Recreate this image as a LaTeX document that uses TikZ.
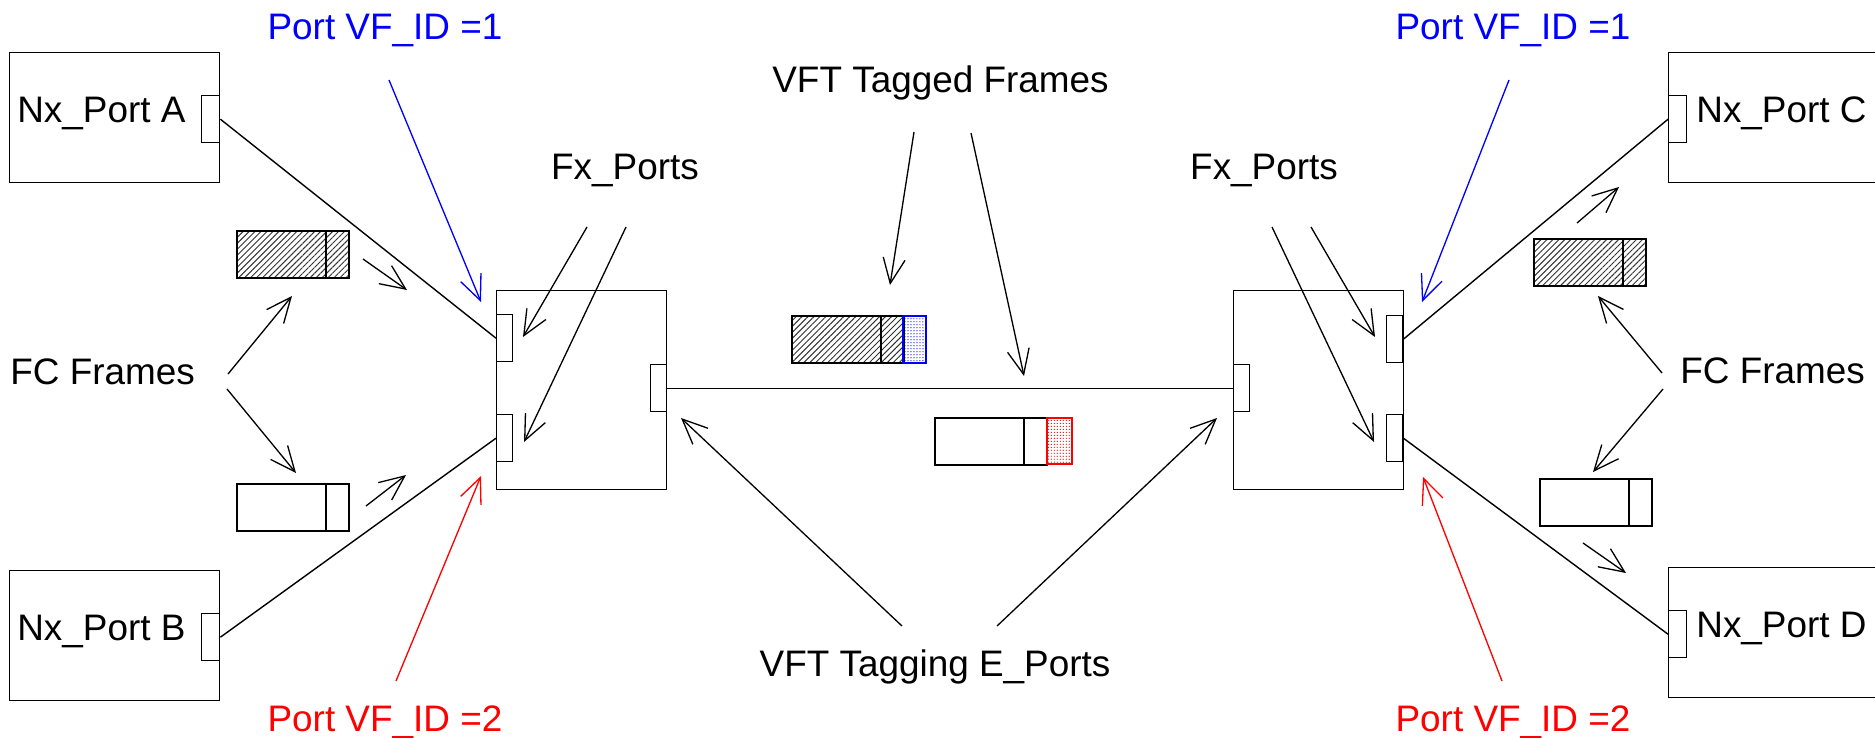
\documentclass[tikz,border=0pt]{standalone}
\usepackage{fontspec}
\setmainfont{Liberation Sans}
\usetikzlibrary{arrows.meta,patterns,patterns.meta}

\tikzset{
  box/.style={draw, line width=0.8pt, inner sep=0pt, anchor=north west},
  lbl/.style={font=\fontsize{21}{25}\selectfont, inner sep=0pt},
  ptr/.style={-{Straight Barb[length=5mm,width=4.4mm]}, line width=0.75pt},
  link/.style={line width=0.8pt},
  hatch/.style={pattern={Lines[angle=45,distance=2.4pt,line width=0.55pt]}, pattern color=black!80},
  tagdots/.style={pattern={Dots[distance=1.7pt,radius=0.35pt]}},
}

% frame: x, y, fill style
\newcommand{\fcframe}[3]{%
  \draw[link, #3] (#1,#2) rectangle ++(112,47);
  \draw[link] (#1+89,#2) -- ++(0,47);
}

\begin{document}
\begin{tikzpicture}[x=0.02cm, y=-0.02cm]
    \useasboundingbox (0,0) rectangle (1875,737);

    % Nx_Ports
    \node[box, minimum width=4.2cm, minimum height=2.6cm] (nxA) at (9,52) {};
    \node[box, minimum width=0.36cm, minimum height=0.94cm] (pA) at (201,95) {};
    \node[lbl, anchor=base west] (nxAtxt) at (17,122) {Nx\_Port A};

    \node[box, minimum width=4.2cm, minimum height=2.6cm] (nxB) at (9,570) {};
    \node[box, minimum width=0.36cm, minimum height=0.94cm] (pB) at (201,613) {};
    \node[lbl, anchor=base west] (nxBtxt) at (17,640) {Nx\_Port B};

    \node[box, minimum width=4.4cm, minimum height=2.6cm] (nxC) at (1668,52) {};
    \node[box, minimum width=0.36cm, minimum height=0.94cm] (pC) at (1668,95) {};
    \node[lbl, anchor=base west] (nxCtxt) at (1696,122) {Nx\_Port C};

    \node[box, minimum width=4.4cm, minimum height=2.6cm] (nxD) at (1668,567) {};
    \node[box, minimum width=0.36cm, minimum height=0.94cm] (pD) at (1668,610) {};
    \node[lbl, anchor=base west] (nxDtxt) at (1696,637) {Nx\_Port D};

    % Switches
    \node[box, minimum width=3.4cm, minimum height=3.98cm] (swL) at (496,290) {};
    \node[box, minimum width=0.32cm, minimum height=0.94cm] (swLa) at (496,314) {};
    \node[box, minimum width=0.32cm, minimum height=0.94cm] (swLb) at (496,414) {};
    \node[box, minimum width=0.32cm, minimum height=0.94cm] (swLe) at (650,364) {};

    \node[box, minimum width=3.4cm, minimum height=3.98cm] (swR) at (1233,290) {};
    \node[box, minimum width=0.32cm, minimum height=0.94cm] (swRe) at (1233,364) {};
    \node[box, minimum width=0.32cm, minimum height=0.94cm] (swRa) at (1386,315) {};
    \node[box, minimum width=0.32cm, minimum height=0.94cm] (swRb) at (1386,414) {};

    % Links
    \draw[link] (pA.east) -- (swLa.west);
    \draw[link] (pB.east) -- (swLb.west);
    \draw[link] (swLe.east) -- (swRe.west);
    \draw[link] (swRa.east) -- (pC.west);
    \draw[link] (swRb.east) -- (pD.west);

    % Frames
    \fcframe{237}{231}{hatch}
    \fcframe{237}{484}{}
    \fcframe{1534}{239}{hatch}
    \fcframe{1540}{479}{}
    \fcframe{792}{316}{hatch}
    \draw[link, blue, tagdots, pattern color=blue] (903,316) rectangle ++(23,47);
    \fcframe{935}{418}{}
    \draw[link, red, tagdots, pattern color=red] (1047,418) rectangle ++(25,46);

    % Labels
    \node[lbl, blue, anchor=base] (vfL1) at (385,39) {Port VF\_ID =1};
    \node[lbl, blue, anchor=base] (vfR1) at (1513,39) {Port VF\_ID =1};
    \node[lbl, red, anchor=base] (vfL2) at (385,731) {Port VF\_ID =2};
    \node[lbl, red, anchor=base] (vfR2) at (1513,731) {Port VF\_ID =2};
    \node[lbl, anchor=base] (fxL) at (625,179) {Fx\_Ports};
    \node[lbl, anchor=base] (fxR) at (1264,179) {Fx\_Ports};
    \node[lbl, anchor=base west] (tagged) at (772,92) {VFT Tagged Frames};
    \node[lbl, anchor=base] (tagging) at (935,676) {VFT Tagging E\_Ports};
    \node[lbl, anchor=base west] (fcL) at (10,384) {FC Frames};
    \node[lbl, anchor=base west] (fcR) at (1680,383) {FC Frames};

    % Arrow ends
    \coordinate (b1s) at (389,80);   \coordinate (b1t) at (481,302);
    \coordinate (b2s) at (1509,80);  \coordinate (b2t) at (1422,302);
    \coordinate (r1s) at (396,681);  \coordinate (r1t) at (481,476);
    \coordinate (r2s) at (1502,681); \coordinate (r2t) at (1423,477);
    \coordinate (f1s) at (587,227);  \coordinate (f1t) at (523,337);
    \coordinate (f2s) at (626,227);  \coordinate (f2t) at (524,442);
    \coordinate (f3s) at (1311,227); \coordinate (f3t) at (1375,337);
    \coordinate (f4s) at (1272,227); \coordinate (f4t) at (1374,442);
    \coordinate (t1s) at (914,132);  \coordinate (t1t) at (890,285);
    \coordinate (t2s) at (971,133);  \coordinate (t2t) at (1024,376);
    \coordinate (e1s) at (902,626);  \coordinate (e1t) at (681,418);
    \coordinate (e2s) at (997,626);  \coordinate (e2t) at (1217,418);
    \coordinate (c1s) at (228,374);  \coordinate (c1t) at (292,296);
    \coordinate (c2s) at (227,389);  \coordinate (c2t) at (296,473);
    \coordinate (c3s) at (1662,373); \coordinate (c3t) at (1598,296);
    \coordinate (c4s) at (1663,389); \coordinate (c4t) at (1593,472);
    \coordinate (m1s) at (363,259);  \coordinate (m1t) at (407,290);
    \coordinate (m2s) at (366,506);  \coordinate (m2t) at (406,475);
    \coordinate (m3s) at (1577,223); \coordinate (m3t) at (1619,187);
    \coordinate (m4s) at (1583,543); \coordinate (m4t) at (1626,573);

    % Arrows
    \draw[ptr, blue] (b1s) -- (b1t);
    \draw[ptr, blue] (b2s) -- (b2t);
    \draw[ptr, red] (r1s) -- (r1t);
    \draw[ptr, red] (r2s) -- (r2t);
    \foreach \a in {f1,f2,f3,f4,t1,t2,e1,e2,c1,c2,c3,c4,m1,m2,m3,m4}
        \draw[ptr] (\a s) -- (\a t);
\end{tikzpicture}
\end{document}
